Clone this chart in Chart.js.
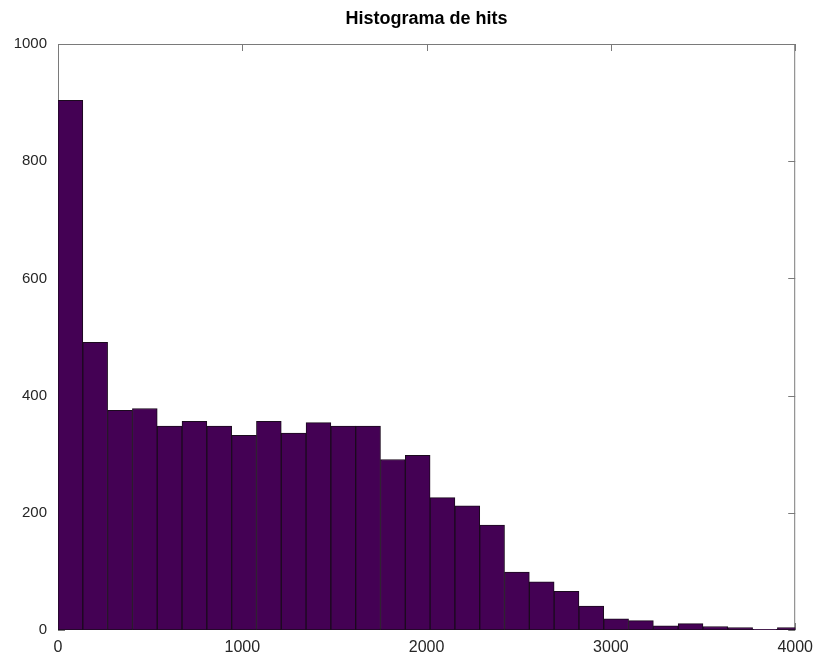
<!DOCTYPE html>
<html>
<head>
<meta charset="utf-8">
<title>Histograma de hits</title>
<script src="https://cdn.jsdelivr.net/npm/chart.js@4"></script>
<style>
  body { margin: 0; background: #fff; }
  canvas { display: block; }
</style>
</head>
<body>
<canvas id="histChart" width="821" height="657"></canvas>
<script>
// hit counts per bin, 30 bins starting at 0
const binStart = 0
const binWidth = 134.6
const counts = [904, 491, 375, 378, 348, 356, 348, 332, 356, 336, 354, 348, 348, 291, 298,
  226, 212, 179, 99, 82, 66, 41, 19, 16, 7, 11, 6, 4, 1, 4]
const xTicks = [0, 1000, 2000, 3000, 4000]
const yTicks = [0, 200, 400, 600, 800, 1000]

const barColor = '#440154'
const axisColor = '#7a7a7a'
const textColor = '#262626'
const fontFamily = "'Liberation Sans', Arial, sans-serif"

// box around the plot plus inward tick marks on all four sides
const axesBox = {
  id: 'axesBox',
  beforeDatasetsDraw(chart) {
    const { ctx, chartArea: a, scales } = chart
    const len = 7
    ctx.save()
    ctx.strokeStyle = axisColor
    ctx.lineWidth = 1
    ctx.strokeRect(a.left + 0.5, a.top + 0.5, a.right - a.left - 1, a.bottom - a.top - 1)
    ctx.beginPath()
    xTicks.forEach((v) => {
      const px = Math.round(scales.x.getPixelForValue(v)) + 0.5
      ctx.moveTo(px, a.bottom); ctx.lineTo(px, a.bottom - len)
      ctx.moveTo(px, a.top); ctx.lineTo(px, a.top + len)
    })
    yTicks.forEach((v) => {
      const py = Math.round(scales.y.getPixelForValue(v)) + 0.5
      ctx.moveTo(a.left, py); ctx.lineTo(a.left + len, py)
      ctx.moveTo(a.right, py); ctx.lineTo(a.right - len, py)
    })
    ctx.stroke()
    ctx.restore()
  },
}

const plainNumber = (v) => String(v)

const ctx = document.getElementById('histChart')
new Chart(ctx, {
  type: 'bar',
  data: {
    datasets: [
      {
        label: 'hits',
        data: counts.map((c, i) => ({ x: binStart + binWidth * (i + 0.5), y: c })),
        backgroundColor: barColor,
        borderColor: '#1b0a1e',
        borderWidth: 1,
        borderSkipped: false,
        barPercentage: 1,
        categoryPercentage: 1,
        clip: 0,
      },
    ],
  },
  options: {
    responsive: false,
    animation: false,
    layout: { padding: { left: 0, right: 23, top: 0, bottom: 0 } },
    plugins: {
      legend: { display: false },
      tooltip: { enabled: false },
      title: {
        display: true,
        text: 'Histograma de hits',
        fullSize: false,
        color: '#000',
        font: { family: fontFamily, size: 18, weight: 'bold' },
        padding: { top: 8, bottom: 14.4 },
      },
    },
    scales: {
      x: {
        type: 'linear',
        min: 0,
        max: 4000,
        offset: false,
        grid: { display: false, drawTicks: false },
        border: { display: false },
        afterBuildTicks: (scale) => { scale.ticks = xTicks.map((v) => ({ value: v })) },
        afterFit: (scale) => { scale.height = 27 },
        ticks: {
          color: textColor,
          padding: 8,
          maxRotation: 0,
          callback: plainNumber,
          font: { family: fontFamily, size: 16 },
        },
      },
      y: {
        min: 0,
        max: 1000,
        grid: { display: false, drawTicks: false },
        border: { display: false },
        afterBuildTicks: (scale) => { scale.ticks = yTicks.map((v) => ({ value: v })) },
        afterFit: (scale) => { scale.width = 58 },
        ticks: {
          color: textColor,
          padding: 11,
          callback: plainNumber,
          font: { family: fontFamily, size: 15 },
        },
      },
    },
  },
  plugins: [axesBox],
})
</script>
</body>
</html>
